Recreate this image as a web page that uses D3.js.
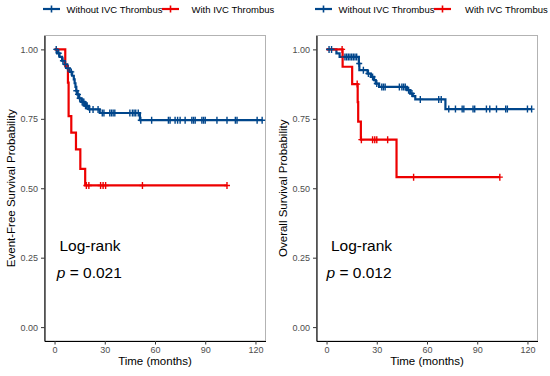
<!DOCTYPE html>
<html>
<head>
<meta charset="utf-8">
<script src="https://cdn.jsdelivr.net/npm/d3@7"></script>
<style>
	body { margin: 0; background: #fff; }
	text { font-family: "Liberation Sans", Arial, Helvetica, sans-serif; }
</style>
</head>
<body>
<svg id="chart" width="550" height="376"></svg>
<script>
// groups / legend
var groups = ["Without IVC Thrombus", "With IVC Thrombus"];
var xTicks = [0, 30, 60, 90, 120];
var yTicks = [0, 0.25, 0.5, 0.75, 1];

// Event-free survival : event times (months) and survival after each step
var efsWithoutTimes = [1.5, 3, 4.5, 6, 7.5, 9, 10.5, 11.5, 12, 12.5, 13, 13.5, 14.5, 16, 18, 20.5, 27, 51];
var efsWithoutSurv = [0.986, 0.973, 0.959, 0.946, 0.932, 0.919, 0.905, 0.892, 0.878, 0.865, 0.851, 0.838, 0.824, 0.811, 0.797, 0.784, 0.771, 0.745];
var efsWithoutCensor = [1, 2.5, 5, 6.5, 8, 10, 13, 14, 15, 16.5, 17, 17.5, 18.5, 19, 19.5, 21, 23, 26, 28.5, 29.5,
	33, 34, 35, 36, 45, 46.5, 47.5, 48.5, 50, 51.5, 58, 68, 69, 72, 73.5, 75, 78, 82, 83, 84, 88, 89, 90,
	97, 103, 108, 109, 121, 124];
var efsWithTimes = [6.4, 8.0, 8.4, 10.0, 12.8, 15.4, 18.3];
var efsWithSurv = [0.94, 0.88, 0.76, 0.70, 0.64, 0.57, 0.51];
var efsWithCensor = [19, 20.5, 27.5, 29, 30.5, 52.5, 103];

// Overall survival
var osWithoutTimes = [5.9, 7.8, 19.3, 19.6, 24.5, 26.5, 28.4, 29.4, 31.4, 48, 50, 51.5, 53, 71];
var osWithoutSurv = [0.986, 0.973, 0.949, 0.925, 0.913, 0.901, 0.889, 0.877, 0.865, 0.853, 0.841, 0.832, 0.82, 0.785];
var osWithoutCensor = [1.5, 3, 11, 12, 13, 14, 15, 16, 17, 18, 19.5, 22, 25, 27.5, 30, 33, 34, 35, 43.5, 45, 46,
	47, 49, 51, 56, 67, 68.5, 73, 77, 81, 82, 87.5, 88.5, 95.5, 97.5, 101.5, 107, 108, 120, 122.5];
var osWithTimes = [9.6, 15.3, 18.6, 18.9, 20.5, 41.8];
var osWithSurv = [0.9375, 0.875, 0.81, 0.74, 0.675, 0.54];
var osWithCensor = [9.3, 18.3, 20.8, 27.5, 28.8, 30, 36.5, 52, 103.5];

// log-rank p values
var pValues = ["0.021", "0.012"];

var colors = ["#00468B", "#ED0000"];

function survAt(times, surv, t) {
	var s = 1;
	for (var i = 0; i < times.length; i++) {
		if (times[i] <= t) s = surv[i];
	}
	return s;
}

var svg = d3.select("#chart");

function drawPanel(opts) {
	var g = svg.append("g");
	var x = d3.scaleLinear().domain([-6, 126]).range([opts.left, opts.right]);
	var y = d3.scaleLinear().domain([-0.05, 1.05]).range([341, 35.5]);

	// panel border
	g.append("rect")
		.attr("x", opts.left).attr("y", 35.5)
		.attr("width", opts.right - opts.left).attr("height", 341 - 35.5)
		.attr("fill", "none").attr("stroke", "#b3b3b3").attr("stroke-width", 1);

	var yAxis = g.append("g")
		.attr("transform", "translate(" + opts.left + ",0)")
		.call(d3.axisLeft(y).tickValues(yTicks).tickFormat(d3.format(".2f")).tickSize(3.5).tickSizeOuter(0).tickPadding(3));
	var xAxis = g.append("g")
		.attr("transform", "translate(0,341)")
		.call(d3.axisBottom(x).tickValues(xTicks).tickSize(3.5).tickSizeOuter(0).tickPadding(2));
	[xAxis, yAxis].forEach(function (a) {
		a.select(".domain").attr("stroke", "#000").attr("stroke-width", 1.1);
		a.selectAll(".tick line").attr("stroke", "#333");
		a.selectAll(".tick text").attr("fill", "#4d4d4d").style("font-size", "9px")
			.style("font-family", "'Liberation Sans', Arial, sans-serif");
	});

	// axis titles
	g.append("text")
		.attr("x", (opts.left + opts.right) / 2).attr("y", 365)
		.attr("text-anchor", "middle").style("font-size", "11.5px")
		.text("Time (months)");
	g.append("text")
		.attr("transform", "translate(" + opts.ylabX + "," + ((35.5 + 341) / 2) + ") rotate(-90)")
		.attr("text-anchor", "middle").style("font-size", "11.5px")
		.text(opts.ylab);

	var line = d3.line()
		.x(function (d) { return x(d[0]); })
		.y(function (d) { return y(d[1]); })
		.curve(d3.curveStepAfter);

	opts.series.forEach(function (s, i) {
		var pts = [[0, 1]];
		s.times.forEach(function (t, j) { pts.push([t, s.surv[j]]); });
		var last = d3.max(s.censor.concat(s.times));
		pts.push([last, survAt(s.times, s.surv, last)]);
		g.append("path")
			.attr("d", line(pts))
			.attr("fill", "none")
			.attr("stroke", colors[i])
			.attr("stroke-width", 2.2);
	});

	opts.series.forEach(function (s, i) {
		g.append("g").selectAll("path")
			.data(s.censor)
			.enter().append("path")
			.attr("d", function (t) {
				var cx = x(t), cy = y(survAt(s.times, s.surv, t));
				return "M" + (cx - 3) + "," + cy + "H" + (cx + 3) + "M" + cx + "," + (cy - 3.5) + "V" + (cy + 3.5);
			})
			.attr("stroke", colors[i])
			.attr("stroke-width", 1.4);
	});

	// log-rank annotation
	g.append("text")
		.attr("x", x(opts.lrX)).attr("y", y(0.275))
		.style("font-size", "15.5px")
		.text("Log-rank");
	var pt = g.append("text")
		.attr("x", x(opts.pX)).attr("y", y(0.178))
		.style("font-size", "15.5px");
	pt.append("tspan").style("font-style", "italic").text("p");
	pt.append("tspan").text(" = " + opts.p);

	// legend
	var legendItems = [{ key: -1.5, text: 22 }, { key: 117.5, text: opts.redTextOffset }];
	legendItems.forEach(function (it, i) {
		var kx = opts.left + it.key;
		g.append("line")
			.attr("x1", kx).attr("x2", kx + 17).attr("y1", 9).attr("y2", 9)
			.attr("stroke", colors[i]).attr("stroke-width", 2.2);
		g.append("line")
			.attr("x1", kx + 8.5).attr("x2", kx + 8.5).attr("y1", 5.5).attr("y2", 12.5)
			.attr("stroke", colors[i]).attr("stroke-width", 1.6);
		g.append("text")
			.attr("x", opts.left + it.text).attr("y", 12.5)
			.style("font-size", "9.5px")
			.text(groups[i]);
	});
}

drawPanel({
	left: 44.5, right: 265.5, ylabX: 15,
	ylab: "Event-Free Survival Probability",
	lrX: 2.9, pX: 1.3, p: pValues[0], redTextOffset: 147,
	series: [
		{ times: efsWithoutTimes, surv: efsWithoutSurv, censor: efsWithoutCensor },
		{ times: efsWithTimes, surv: efsWithSurv, censor: efsWithCensor }
	]
});

drawPanel({
	left: 316.5, right: 537.5, ylabX: 287,
	ylab: "Overall Survival Probability",
	lrX: 2.6, pX: 0, p: pValues[1], redTextOffset: 148.5,
	series: [
		{ times: osWithoutTimes, surv: osWithoutSurv, censor: osWithoutCensor },
		{ times: osWithTimes, surv: osWithSurv, censor: osWithCensor }
	]
});
</script>
</body>
</html>
